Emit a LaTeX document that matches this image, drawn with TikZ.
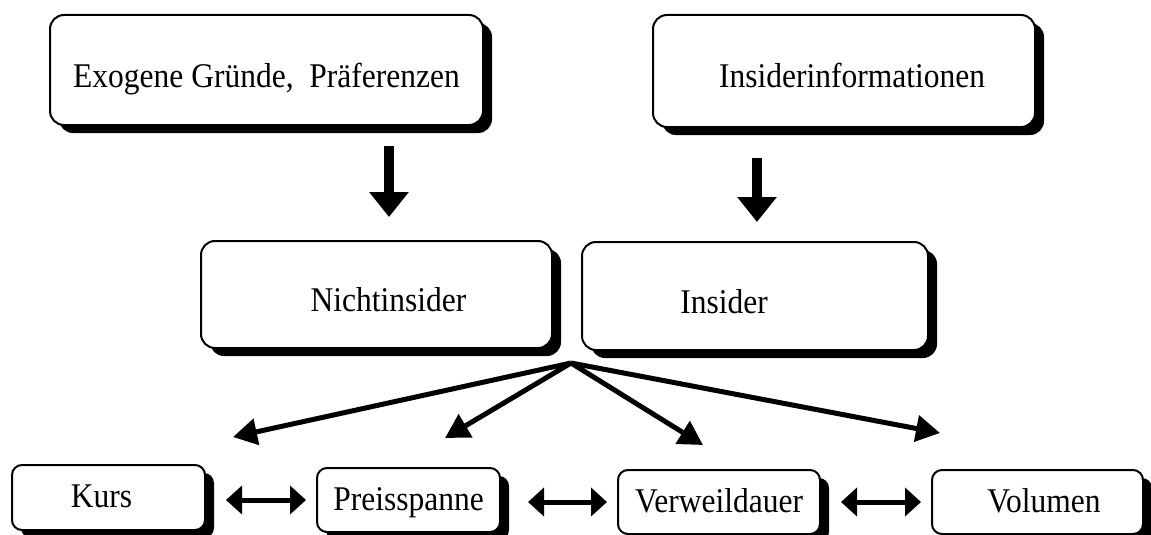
\documentclass[tikz,border=0pt]{standalone}
\usepackage{graphicx}
\usepackage{fontspec}
\setmainfont{Liberation Serif}
\usetikzlibrary{shadows,arrows.meta,calc}
\newcommand{\tx}[1]{\scalebox{1}[1.1]{#1}}
\begin{document}
\begin{tikzpicture}[x=1pt,y=-1pt,
  boxbase/.style={draw=black,line width=2pt,fill=white,inner sep=0pt,
     font=\fontsize{31.5pt}{38pt}\selectfont,
     drop shadow={shadow xshift=9pt,shadow yshift=-8pt,fill=black,opacity=1}},
  bigbox/.style={boxbase,rounded corners=14pt,text height=34pt,text depth=0pt},
  smallbox/.style={boxbase,rounded corners=10pt,text height=20pt,text depth=0pt},
  thickdown/.style={line width=10pt,-{Triangle[length=25pt,width=38pt]}},
  fanarrow/.style={line width=5pt,-{Triangle[length=24pt,width=26pt]}},
  dblarrow/.style={line width=5pt,{Triangle[length=16pt,width=28pt]}-{Triangle[length=16pt,width=28pt]}}
]
\useasboundingbox (0,0) rectangle (1151,535);

\node[bigbox,minimum width=433pt,minimum height=110pt] (exo) at (266.5,70) {\tx{Exogene Gründe,\ \ Präferenzen}};
\node[bigbox,minimum width=382pt,minimum height=112pt] (info) at (844,71) {\kern16pt\tx{Insiderinformationen}};
\node[bigbox,minimum width=351pt,minimum height=107pt] (nicht) at (376.5,294.5) {\kern24pt\tx{Nichtinsider}};
\node[bigbox,minimum width=346pt,minimum height=108pt] (insider) at (755,296) {\tx{Insider}\kern62pt};

\node[smallbox,minimum width=193pt,minimum height=65pt] (kurs) at (108.5,497.5) {\tx{Kurs}\kern14pt};
\node[smallbox,minimum width=183pt,minimum height=64pt] (preis) at (408.5,500) {\tx{Preisspanne}};
\node[smallbox,minimum width=202pt,minimum height=64pt] (verweil) at (719,502) {\tx{Verweildauer}};
\node[smallbox,minimum width=211pt,minimum height=64pt] (vol) at (1037.5,502) {\kern13pt\tx{Volumen}};

\draw[thickdown] ($(nicht.north |- exo.south)+(12.5,20)$) -- ($(nicht.north)+(12.5,-23)$);
\draw[thickdown] ($(insider.north |- info.south)+(2,30)$) -- ($(insider.north)+(2,-19)$);

\coordinate (fan) at ($(nicht.south east)!0.5!(insider.south west)+(4,13)$);
\coordinate (tk) at (233,437);
\coordinate (tp) at (445,438);
\coordinate (tv) at (703,445);
\coordinate (tvol) at (940,433);
\draw[fanarrow] (fan) -- (tk);
\draw[fanarrow] (fan) -- (tp);
\draw[fanarrow] (fan) -- (tv);
\draw[fanarrow] (fan) -- (tvol);

\draw[dblarrow] ($(kurs.east |- preis.west)+(20,0)$) -- ($(preis.west)+(-10,0)$);
\draw[dblarrow] ($(preis.east |- verweil.west)+(27,0)$) -- ($(verweil.west)+(-10,0)$);
\draw[dblarrow] ($(verweil.east |- vol.west)+(20,0)$) -- ($(vol.west)+(-10,0)$);
\end{tikzpicture}
\end{document}
